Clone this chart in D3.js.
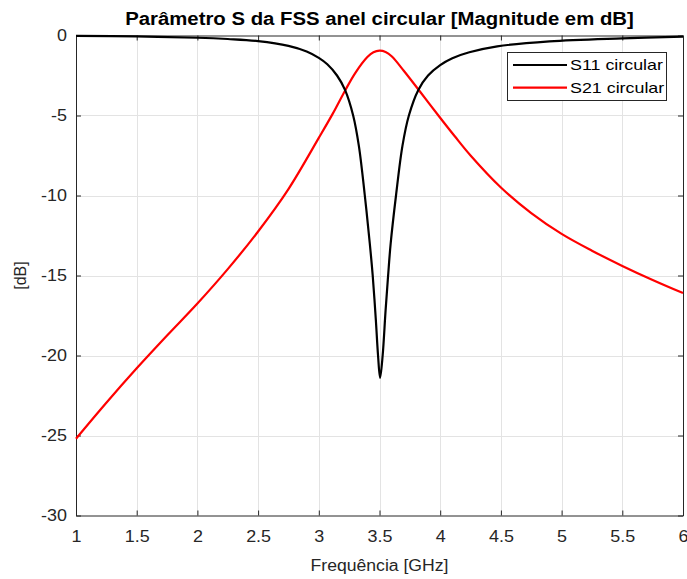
<!DOCTYPE html>
<html>
<head>
<meta charset="utf-8">
<script src="https://cdn.jsdelivr.net/npm/d3@7"></script>
<style>
html,body{margin:0;padding:0;background:#fff;}
svg{display:block;font-family:"Liberation Sans",Arial,Helvetica,sans-serif;}
</style>
</head>
<body>
<svg id="chart" width="687" height="579"></svg>
<script>
const title = "Parâmetro S da FSS anel circular [Magnitude em dB]";
const xLabel = "Frequência [GHz]";
const yLabel = "[dB]";
const seriesNames = ["S11 circular", "S21 circular"];
const seriesColors = ["#000000", "#ff0000"];
const xTicks = [1, 1.5, 2, 2.5, 3, 3.5, 4, 4.5, 5, 5.5, 6];
const yTicks = [0, -5, -10, -15, -20, -25, -30];

const s11Freq = [1.0, 1.5, 2.0, 2.25, 2.5, 2.75, 2.9, 3.0, 3.07, 3.15, 3.216, 3.283, 3.33, 3.379, 3.42, 3.444, 3.47, 3.488, 3.505, 3.526, 3.55, 3.571, 3.592, 3.636, 3.689, 3.742, 3.82, 3.9, 4.0, 4.1, 4.24, 4.47, 4.9, 5.5, 6.0];
const s11Vals = [-0.02, -0.06, -0.14, -0.22, -0.35, -0.65, -1.0, -1.4, -1.8, -2.5, -3.4, -5.0, -6.9, -10.0, -13.0, -15.0, -17.8, -20.0, -21.4, -20.0, -17.2, -15.0, -13.0, -10.0, -6.9, -5.0, -3.4, -2.5, -1.85, -1.42, -1.05, -0.68, -0.37, -0.18, -0.07];

const s21Freq = [1.0, 1.25, 1.5, 1.75, 2.0, 2.25, 2.5, 2.75, 3.0, 3.114, 3.216, 3.3, 3.4, 3.45, 3.5, 3.55, 3.6, 3.7, 3.83, 3.985, 4.12, 4.25, 4.5, 4.75, 5.0, 5.25, 5.5, 5.75, 6.0];
const s21Vals = [-25.2, -22.95, -20.8, -18.75, -16.75, -14.6, -12.25, -9.6, -6.4, -4.9, -3.45, -2.35, -1.35, -1.05, -0.95, -1.03, -1.3, -2.2, -3.47, -5.0, -6.3, -7.5, -9.5, -11.1, -12.4, -13.45, -14.4, -15.28, -16.1];

const svg = d3.select("#chart");
const margin = {left: 76, right: 4, top: 35.5, bottom: 63.5};
const W = 687, H = 579;
const x = d3.scaleLinear().domain([1, 6]).range([margin.left, W - margin.right]);
const y = d3.scaleLinear().domain([-30, 0]).range([H - margin.bottom, margin.top]);
const axisColor = "#262626";
const FONT = "'Liberation Sans', Arial, sans-serif";

function stretch(sel, factor) {
  sel.each(function() {
    const w = this.getComputedTextLength();
    if (w > 0) d3.select(this).attr("textLength", w * factor).attr("lengthAdjust", "spacingAndGlyphs");
  });
}

// grid
const g = svg.append("g");
g.selectAll(".gx").data(xTicks.slice(1, -1)).enter().append("line")
  .attr("x1", d => Math.round(x(d)) + 0.5).attr("x2", d => Math.round(x(d)) + 0.5)
  .attr("y1", y(0)).attr("y2", y(-30))
  .attr("stroke", "#e3e3e3").attr("stroke-width", 1);
g.selectAll(".gy").data(yTicks.slice(1, -1)).enter().append("line")
  .attr("y1", d => Math.round(y(d)) + 0.5).attr("y2", d => Math.round(y(d)) + 0.5)
  .attr("x1", x(1)).attr("x2", x(6))
  .attr("stroke", "#e3e3e3").attr("stroke-width", 1);

// axes
const fmt = d => String(d);
const xAxisB = d3.axisBottom(x).tickValues(xTicks).tickFormat(fmt).tickSizeInner(-5).tickSizeOuter(0).tickPadding(15);
const xAxisT = d3.axisTop(x).tickValues(xTicks).tickFormat("").tickSizeInner(-5).tickSizeOuter(0);
const yAxisL = d3.axisLeft(y).tickValues(yTicks).tickFormat(fmt).tickSizeInner(-5).tickSizeOuter(0).tickPadding(9);
const yAxisR = d3.axisRight(y).tickValues(yTicks).tickFormat("").tickSizeInner(-5).tickSizeOuter(0);

function styleAxis(sel) {
  sel.selectAll("path").attr("stroke", axisColor).attr("stroke-width", 1);
  sel.selectAll("line").attr("stroke", axisColor);
  sel.selectAll("text").attr("fill", axisColor).style("font-size", "16px").style("font-family", FONT);
}
const gxb = svg.append("g").attr("transform", `translate(0,${y(-30)})`).call(xAxisB).call(styleAxis);
svg.append("g").attr("transform", `translate(0,${y(0)})`).call(xAxisT).call(styleAxis);
const gyl = svg.append("g").attr("transform", `translate(${x(1)},0)`).call(yAxisL).call(styleAxis);
svg.append("g").attr("transform", `translate(${x(6)},0)`).call(yAxisR).call(styleAxis);
stretch(gxb.selectAll("text"), 1.12);
stretch(gyl.selectAll("text"), 1.12);

// lines
const line = d3.line().x(d => x(d[0])).y(d => y(d[1])).curve(d3.curveCatmullRom.alpha(0.5));
const s11 = s11Freq.map((f, i) => [f, s11Vals[i]]);
const s21 = s21Freq.map((f, i) => [f, s21Vals[i]]);
svg.append("path").datum(s21).attr("d", line).attr("fill", "none").attr("stroke", seriesColors[1]).attr("stroke-width", 2.2);
svg.append("path").datum(s11).attr("d", line).attr("fill", "none").attr("stroke", seriesColors[0]).attr("stroke-width", 2.2);

// title and labels
const cx = (x(1) + x(6)) / 2;
svg.append("text").attr("x", cx).attr("y", 25).attr("text-anchor", "middle")
  .style("font-size", "18px").style("font-weight", "bold").attr("fill", "#000").text(title)
  .call(s => stretch(s, 1.13));
svg.append("text").attr("x", cx).attr("y", 571).attr("text-anchor", "middle")
  .style("font-size", "16px").attr("fill", axisColor).text(xLabel)
  .call(s => stretch(s, 1.1));
svg.append("text").attr("transform", `translate(26,${(y(0) + y(-30)) / 2}) rotate(-90)`).attr("text-anchor", "middle")
  .style("font-size", "16px").attr("fill", axisColor).text(yLabel);

// legend
const lg = svg.append("g");
lg.append("rect").attr("x", 507.5).attr("y", 52.5).attr("width", 159).attr("height", 48)
  .attr("fill", "#fff").attr("stroke", axisColor).attr("stroke-width", 1);
seriesNames.forEach((name, i) => {
  const yy = 65 + i * 22.7;
  lg.append("line").attr("x1", 513).attr("x2", 567).attr("y1", yy).attr("y2", yy)
    .attr("stroke", seriesColors[i]).attr("stroke-width", 2.2);
  lg.append("text").attr("x", 570).attr("y", yy + 5).style("font-size", "15px").attr("fill", "#000").text(name)
    .call(s => stretch(s, 1.19));
});
</script>
</body>
</html>
